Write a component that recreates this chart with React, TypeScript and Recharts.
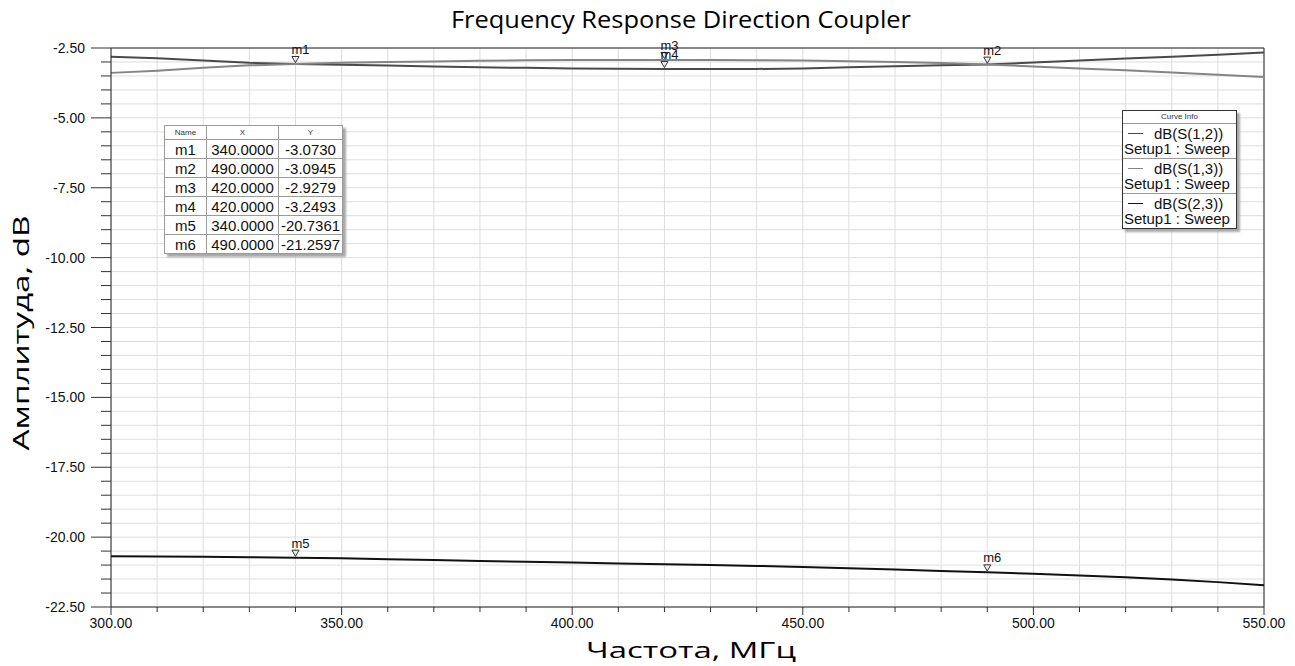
import React from 'react';
import {
  LineChart,
  Line,
  XAxis,
  YAxis,
  CartesianGrid,
  ReferenceLine,
  ReferenceDot,
} from 'recharts';

// frequency grid, MHz
const freqs = [
  300, 310, 320, 330, 340, 350, 360, 370, 380, 390, 400, 410, 420, 430, 440,
  450, 460, 470, 480, 490, 500, 510, 520, 530, 540, 550,
];

// dB(S(1,2))
const s12 = [
  -2.81, -2.87, -2.95, -3.03, -3.073, -3.1, -3.13, -3.16, -3.19, -3.21, -3.23,
  -3.245, -3.2493, -3.25, -3.25, -3.23, -3.19, -3.15, -3.12, -3.0945, -3.02,
  -2.95, -2.88, -2.81, -2.74, -2.66,
];

// dB(S(1,3))
const s13 = [
  -3.39, -3.31, -3.21, -3.12, -3.073, -3.03, -3.0, -2.98, -2.96, -2.94, -2.93,
  -2.93, -2.9279, -2.93, -2.935, -2.95, -2.97, -3.0, -3.04, -3.0945, -3.16,
  -3.23, -3.3, -3.38, -3.46, -3.54,
];

// dB(S(2,3))
const s23 = [
  -20.68, -20.69, -20.7, -20.72, -20.7361, -20.76, -20.79, -20.82, -20.85,
  -20.88, -20.91, -20.94, -20.97, -21.0, -21.03, -21.07, -21.11, -21.16,
  -21.21, -21.2597, -21.31, -21.37, -21.44, -21.52, -21.61, -21.72,
];

const markerNames = ['m1', 'm2', 'm3', 'm4', 'm5', 'm6'];
const markerX = [340, 490, 420, 420, 340, 490];
const markerY = [-3.073, -3.0945, -2.9279, -3.2493, -20.7361, -21.2597];

const seriesKeys = ['s12', 's13', 's23'];
const seriesNames = ['dB(S(1,2))', 'dB(S(1,3))', 'dB(S(2,3))'];
const seriesColors = ['#4a4a4a', '#858585', '#111111'];

const xTicks: number[] = [];
for (let f = 300; f <= 550; f += 10) xTicks.push(f);
const yTicks: number[] = [];
for (let v = -22.5; v <= -2.5 + 1e-9; v += 0.5) yTicks.push(Math.round(v * 10) / 10);

const data = freqs.map((f, i) => ({ f, s12: s12[i], s13: s13[i], s23: s23[i] }));

const FONT = '"Liberation Sans", Arial, sans-serif';
const TITLE_FONT = '"Open Sans", sans-serif';

const YTick = ({ x, y, payload }: any) => {
  const v = payload.value;
  const major = Math.abs(v / 2.5 - Math.round(v / 2.5)) < 1e-6;
  return (
    <g>
      <line x1={x - (major ? 20 : 10)} x2={x} y1={y} y2={y} stroke='#333' />
      {major && (
        <text x={x - 26} y={y + 5} textAnchor='end' fontSize={14} fill='#111' fontFamily={FONT}>
          {v.toFixed(2)}
        </text>
      )}
    </g>
  );
};

const XTick = ({ x, y, payload }: any) => {
  const v = payload.value;
  const major = v % 50 === 0;
  return (
    <g>
      <line x1={x} x2={x} y1={y} y2={y + (major ? 8 : 5)} stroke='#333' />
      {major && (
        <text x={x} y={y + 21} textAnchor='middle' fontSize={14} fill='#111' fontFamily={FONT}>
          {v.toFixed(2)}
        </text>
      )}
    </g>
  );
};

const MarkerShape = ({ cx, cy, label }: any) => (
  <g>
    <path
      d={`M${cx - 3.5},${cy - 7.5} L${cx + 3.5},${cy - 7.5} L${cx},${cy - 1.3} Z`}
      fill='none'
      stroke='#333'
      strokeWidth={1}
    />
    <text x={cx - 4} y={cy - 10} fontSize={13} fill='#111' fontFamily={FONT}>
      {label}
    </text>
  </g>
);

const cellStyle: React.CSSProperties = {
  border: '1px solid #9a9a9a',
  padding: 0,
  textAlign: 'center',
  fontSize: 15,
  lineHeight: '17px',
  height: 18,
  color: '#111',
};

const headStyle: React.CSSProperties = {
  ...cellStyle,
  fontSize: 8,
  lineHeight: '12px',
  height: 13,
  color: '#333',
};

function MarkerTable() {
  return (
    <table
      style={{
        position: 'absolute',
        left: 164,
        top: 125,
        width: 179,
        borderCollapse: 'collapse',
        background: '#fff',
        border: '1px solid #333',
        boxShadow: '3px 3px 2px #a8a8a8',
        fontFamily: FONT,
      }}
    >
      <tbody>
        <tr>
          <td style={{ ...headStyle, width: 41 }}>Name</td>
          <td style={{ ...headStyle, width: 71 }}>X</td>
          <td style={headStyle}>Y</td>
        </tr>
        {markerNames.map((n, i) => (
          <tr key={n}>
            <td style={cellStyle}>{n}</td>
            <td style={cellStyle}>{markerX[i].toFixed(4)}</td>
            <td style={cellStyle}>{markerY[i].toFixed(4)}</td>
          </tr>
        ))}
      </tbody>
    </table>
  );
}

function CurveInfo() {
  return (
    <div
      style={{
        position: 'absolute',
        left: 1122,
        top: 110,
        width: 113,
        background: '#fff',
        border: '1px solid #333',
        boxShadow: '3px 3px 2px #a8a8a8',
        fontFamily: FONT,
        color: '#111',
      }}
    >
      <div style={{ fontSize: 8, lineHeight: '12px', textAlign: 'center', color: '#333' }}>
        Curve Info
      </div>
      {seriesNames.map((n, i) => (
        <div
          key={n}
          style={{ borderTop: '1px solid #9a9a9a', fontSize: 15, lineHeight: '15px', padding: '2px 0 2px 1px' }}
        >
          <div style={{ display: 'flex', alignItems: 'center' }}>
            <span
              style={{
                display: 'inline-block',
                width: 15,
                height: 0,
                borderTop: `1.5px solid ${seriesColors[i]}`,
                marginLeft: 4,
                marginRight: 11,
              }}
            />
            <span>{n}</span>
          </div>
          <div>Setup1 : Sweep</div>
        </div>
      ))}
    </div>
  );
}

export default function App() {
  return (
    <div style={{ position: 'absolute', left: 0, top: 0, width: 1295, height: 666, background: '#fff' }}>
      <LineChart width={1295} height={666} data={data} margin={{ top: 48, right: 31, bottom: 19, left: 51 }}>
        <CartesianGrid stroke='#dedede' syncWithTicks />
        <XAxis
          dataKey='f'
          type='number'
          domain={[300, 550]}
          ticks={xTicks}
          interval={0}
          height={40}
          tickSize={0}
          tickMargin={0}
          tickLine={false}
          tick={<XTick />}
          axisLine={{ stroke: '#222' }}
        />
        <YAxis
          type='number'
          domain={[-22.5, -2.5]}
          ticks={yTicks}
          interval={0}
          width={60}
          tickSize={0}
          tickMargin={0}
          tickLine={false}
          tick={<YTick />}
          axisLine={{ stroke: '#222' }}
        />
        <ReferenceLine y={-2.5} stroke='#222' />
        <ReferenceLine x={550} stroke='#222' />
        {seriesKeys.map((k, i) => (
          <Line
            key={k}
            type='linear'
            dataKey={k}
            stroke={seriesColors[i]}
            strokeWidth={2}
            dot={false}
            isAnimationActive={false}
          />
        ))}
        {markerNames.map((n, i) => (
          <ReferenceDot
            key={n}
            x={markerX[i]}
            y={markerY[i]}
            r={0}
            ifOverflow='visible'
            shape={(p: any) => <MarkerShape {...p} label={n} />}
          />
        ))}
      </LineChart>
      <svg
        width={1295}
        height={666}
        style={{ position: 'absolute', left: 0, top: 0, pointerEvents: 'none' }}
      >
        <text
          x={681}
          y={28}
          textAnchor='middle'
          fontSize={23}
          fontFamily={TITLE_FONT}
          fill='#000'
          textLength={460}
          lengthAdjust='spacingAndGlyphs'
        >
          Frequency Response Direction Coupler
        </text>
        <text
          x={691}
          y={658}
          textAnchor='middle'
          fontSize={22}
          fontFamily={TITLE_FONT}
          fill='#000'
          textLength={210}
          lengthAdjust='spacingAndGlyphs'
        >
          Частота, МГц
        </text>
        <text
          x={0}
          y={0}
          transform='translate(29,333) rotate(-90)'
          textAnchor='middle'
          fontSize={22}
          fontFamily={TITLE_FONT}
          fill='#000'
          textLength={235}
          lengthAdjust='spacingAndGlyphs'
        >
          Амплитуда, dB
        </text>
      </svg>
      <MarkerTable />
      <CurveInfo />
    </div>
  );
}
